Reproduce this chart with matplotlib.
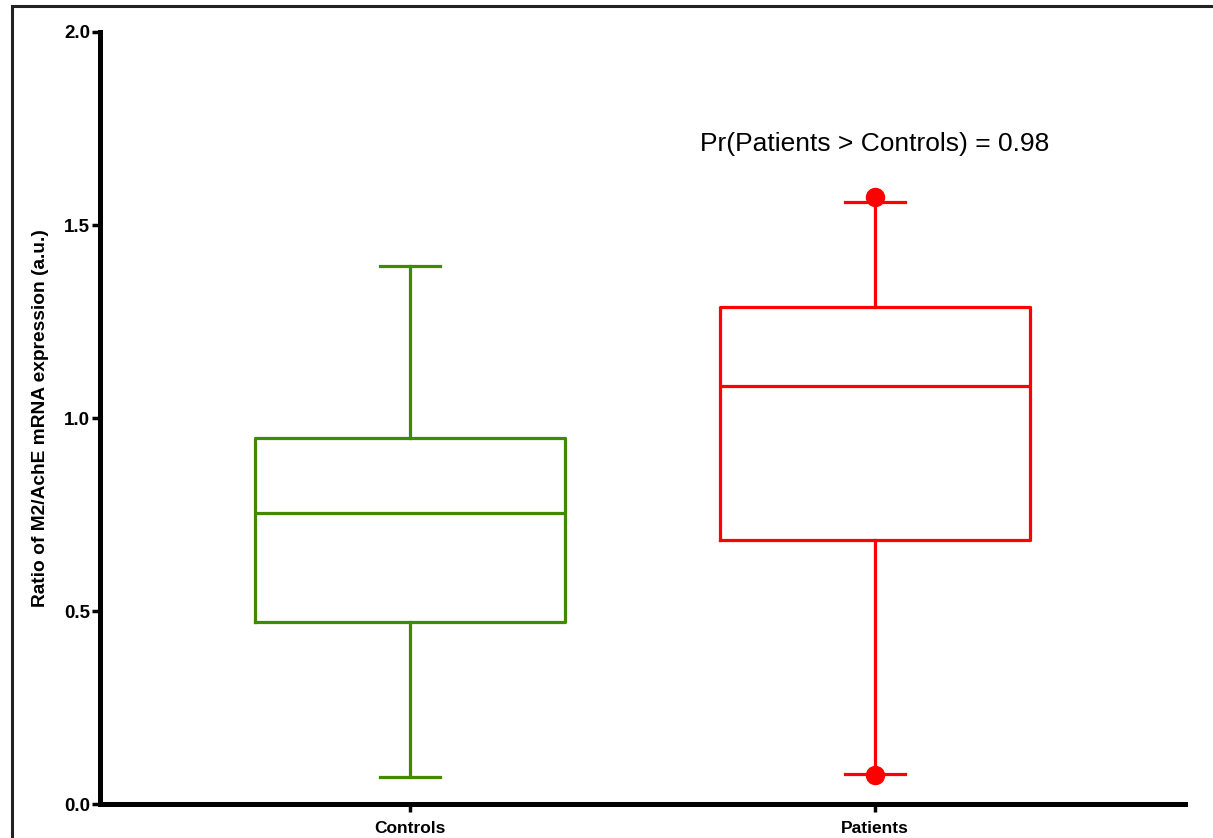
import matplotlib
matplotlib.use("Agg")
import matplotlib.pyplot as plt
from matplotlib.patches import Rectangle

# box summary values
groups = ["Controls", "Patients"]
q1 = [0.472, 0.685]
medians = [0.755, 1.083]
q3 = [0.948, 1.288]
whisker_low = [0.070, 0.078]
whisker_high = [1.394, 1.560]
# extreme points drawn as dots for Patients
patient_dots = [1.572, 0.076]
colors = ["#418a00", "#ff0000"]
annotation = "Pr(Patients > Controls) = 0.98"

plt.rcParams['font.family'] = ['Liberation Sans', 'DejaVu Sans']

fig = plt.figure(figsize=(12.13, 8.38), dpi=100)
ax = fig.add_axes([100 / 1213, 34 / 838, 1085 / 1213, 772 / 838])

stats = []
for i, g in enumerate(groups):
    stats.append(dict(label=g, med=medians[i], q1=q1[i], q3=q3[i],
                      whislo=whisker_low[i], whishi=whisker_high[i], fliers=[]))

for i, s in enumerate(stats):
    c = colors[i]
    lp = dict(color=c, linewidth=2.3)
    ax.bxp([s], positions=[i + 1], widths=0.667, capwidths=0.13,
           showfliers=False, boxprops=lp, whiskerprops=lp, capprops=lp,
           medianprops=lp, manage_ticks=False)

ax.plot([2] * len(patient_dots), patient_dots, 'o', color=colors[1],
        markersize=13, zorder=5, clip_on=False)

ax.text(2, 1.71, annotation, ha='center', va='center', fontsize=19)

ax.set_xlim(0.333, 2.667)
ax.set_ylim(0, 2.0)
ax.set_xticks([1, 2])
ax.set_xticklabels(groups, fontsize=12.5, fontweight='bold')
ax.set_yticks([0.0, 0.5, 1.0, 1.5, 2.0])
ax.set_yticklabels(["0.0", "0.5", "1.0", "1.5", "2.0"], fontsize=13.5,
                   fontweight='bold')
ax.set_ylabel("Ratio of M2/AchE mRNA expression (a.u.)", fontsize=13.8,
              fontweight='bold', labelpad=11)

for side in ['top', 'right']:
    ax.spines[side].set_visible(False)
for side in ['left', 'bottom']:
    ax.spines[side].set_linewidth(3.6)
ax.tick_params(axis='both', length=6, width=2.5)
ax.tick_params(axis='y', pad=1)
ax.tick_params(axis='x', pad=6)

# outer frame line at the top and left of the image
fig.patches.append(Rectangle((12 / 1213, -0.1), 1.2, 1 - 6 / 838 + 0.1,
                             transform=fig.transFigure, fill=False,
                             edgecolor='#222222', linewidth=2.2))

fig.savefig("out.png", dpi=100)
